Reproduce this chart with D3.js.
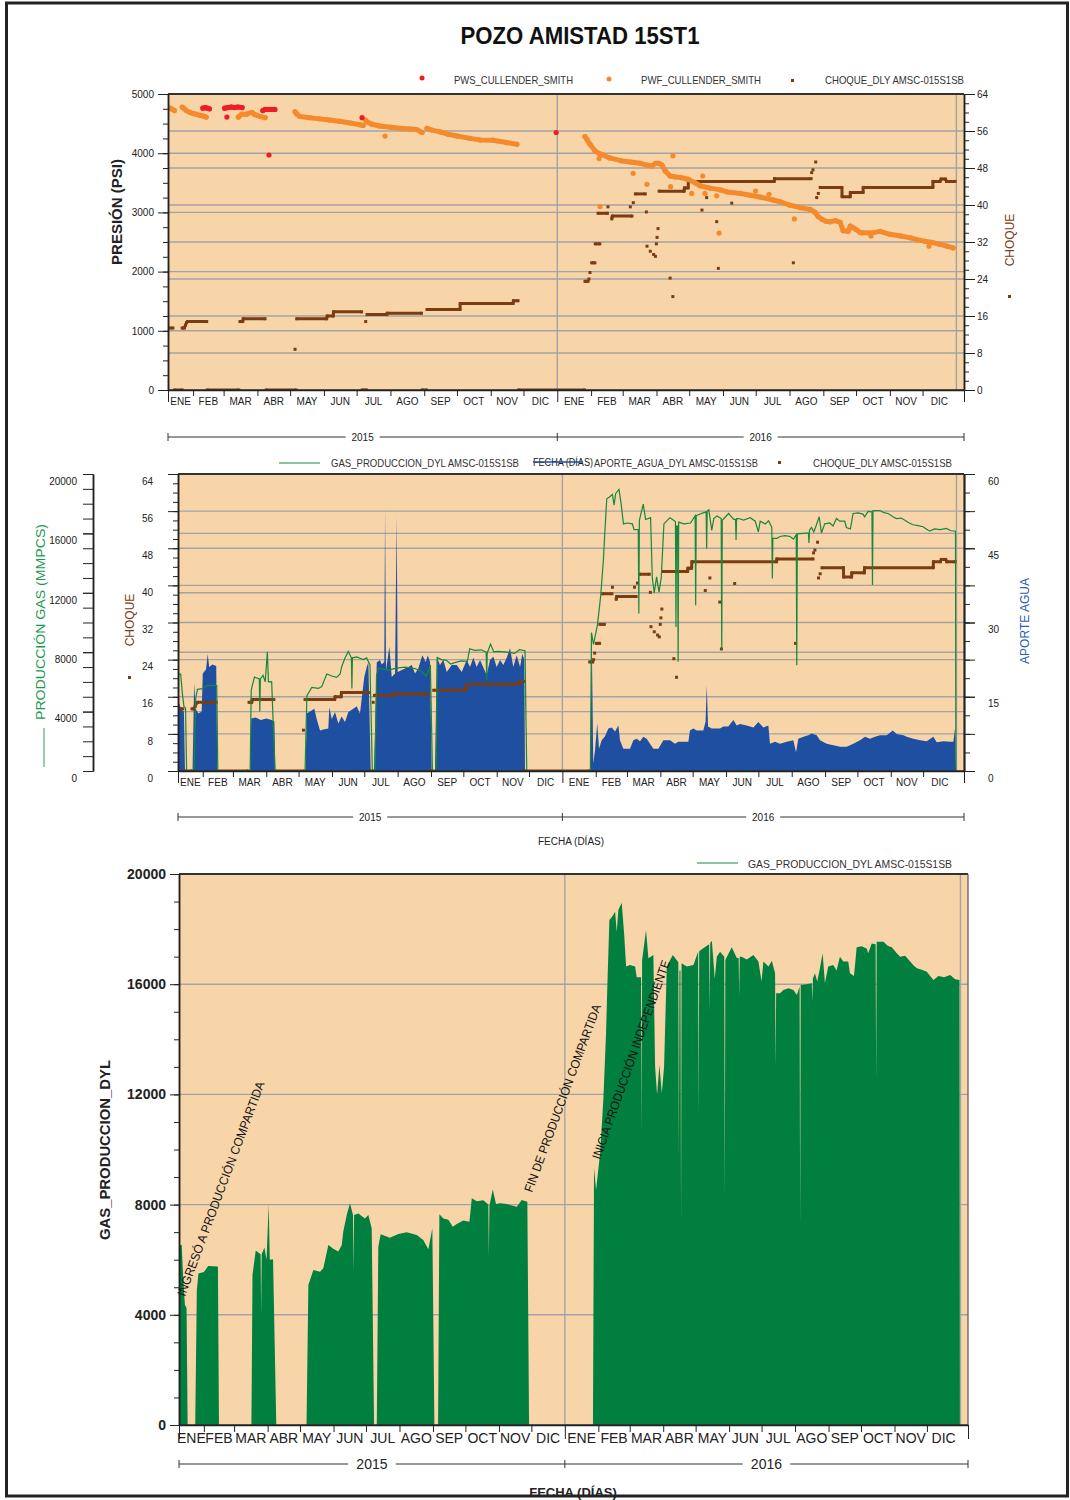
<!DOCTYPE html>
<html>
<head>
<meta charset="utf-8">
<script src="https://cdn.jsdelivr.net/npm/d3@7"></script>
<style>
body { margin: 0; background: #fff; }
svg { display: block; }
</style>
</head>
<body>
<svg id="c" width="1070" height="1500"></svg>
<script>
// ---- datos (t = días desde 2015-01-01) ----
var MESES = ["ENE","FEB","MAR","ABR","MAY","JUN","JUL","AGO","SEP","OCT","NOV","DIC"];
var ANIOS = [2015, 2016];
var INICIO = 8, FIN = 738;

// PWS_CULLENDER_SMITH (psi); null separa tramos
var pws = [
  [40,4760],[42,4770],[44,4760],[46,4750], null,
  [60,4760],[63,4770],[66,4780],[69,4770],[72,4780],[76,4770], null,
  [62,4610], null,
  [95,4720],[97,4740],[100,4740],[103,4740],[106,4740], null,
  [100.6,3970], null,
  [186,4600], null,
  [364,4350]
];

// PWF_CULLENDER_SMITH (psi)
var pwf = [
  [8,4770],[10,4760],[12,4740],[14,4720], null,
  [21,4780],[23,4750],[25,4720],[28,4690],[31,4670],[34,4660],[37,4640],[40,4630],[43,4610], null,
  [72.5,4610],[75.6,4660],[80,4660],[84.8,4690],[87.8,4650],[92.4,4620],[97,4600], null,
  [124.5,4700],[126.3,4660],[129,4620],[138,4600],[147,4580],[156,4560],[165,4540],[175,4510],[184,4480],[187,4470], null,
  [189,4560],[190.5,4530],[195,4490],[202,4460],[212,4440],[221,4420],[230,4410],[236,4400],[241,4350], null,
  [207,4290], null,
  [245.5,4420],[250,4390],[257.5,4360],[265,4320],[273,4290],[285,4250],[294,4225],[306,4220],[318.6,4180],[328,4150], null,
  [390.4,4280],[392.3,4230],[395,4150],[399.6,4040],[404,3990],[407,3970],[413,3920],[424,3870],[432,3850],[441,3830],[447,3800],[452,3780],[455,3830],[458,3830],[461,3800],[464,3700],[468.5,3615],[473,3600],[478,3590],[485,3560],[491.5,3500],[496,3450],[505,3410],[514.5,3380],[521,3345],[533,3320],[542,3290],[551,3260],[563,3210],[569.4,3180],[578.6,3120],[588,3080],[597,3050],[601.5,3000],[604.3,2930],[608,2880],[611.6,2850],[615.3,2840],[620,2860],[624.5,2830],[627.2,2690],[631.8,2680],[633.7,2770],[638.3,2720],[642.8,2660],[652,2650],[661,2680],[670,2630],[680,2600],[689,2570],[695,2540],[702.5,2510],[709.6,2490],[716,2460],[722.4,2430],[728,2400], null,
  [404.2,3100], null, [403.3,3910], null, [434.5,3660], null, [447.3,3475], null, [471,3955], null,
  [468.9,3435], null, [488.3,3320], null, [498.4,3615], null, [500.5,3320], null, [511.2,3280], null,
  [513.3,2650], null, [546.9,3360], null, [559.1,3305], null, [582.4,2890], null, [644.2,2655], null,
  [652.7,2600], null, [705.9,2430]
];

// CHOQUE_DLY AMSC-015S1SB
var choque = [
  [8,13.4],[12.5,13.4], null,
  [14,0],[21,0], null,
  [21,13.4],[23,13.4],[24,14.0],[25,14.6],[26,14.8],[43.5,14.8], null,
  [44,0],[73,0], null,
  [74,14.8],[76.5,14.8],[77,15.4],[97,15.4], null,
  [98,0],[125.5,0], null,
  [124.5,8.8], null,
  [126,15.4],[153.5,15.4],[154,16.0],[159.5,16.0],[159.8,16.9],[185.5,16.9], null,
  [186,0],[190,0], null,
  [189.3,14.8], null,
  [190.5,16.3],[208.6,16.3],[209,16.6],[240.5,16.6], null,
  [241,0],[245,0], null,
  [245.5,17.4],[275.8,17.4],[276,18.7],[324.4,18.7],[324.8,19.3],[329,19.3], null,
  [329.5,0],[390,0], null,
  [390.4,23.5],[393.2,23.5], null, [394,24.0], null, [395,25.4], null, [396.6,27.5],[399.5,27.5], null, [399.8,31.6],[404,31.6], null,
  [402.4,38.2],[411,38.2], null,
  [411.5,39.6], null,
  [415,37.0],[415.5,37.6],[433.5,37.6], null,
  [432,39.6], null, [434.7,40.5], null,
  [436.6,42.4],[445.7,42.4], null,
  [446.7,38.5], null, [447.3,31.1], null, [450.3,30.0], null, [453.4,29.3], null, [455,28.9], null,
  [455.9,31.6], null, [456.5,33.0], null, [457.4,34.9], null,
  [458.4,43.0],[481.3,43.0],[481.6,43.7],[485,43.7],[485.3,45.1],[563.9,45.1],[564.2,45.7],[597.8,45.7], null,
  [468.5,24.2], null, [471,20.2], null,
  [497.7,38.9], null, [502,41.6], null, [511.2,36.4], null, [512.7,26.3], null, [525,40.4], null, [581.5,27.5], null,
  [598.3,47.0], null, [599.5,47.6], null, [602,49.3], null,
  [602.9,41.6], null, [604.4,42.5], null,
  [606.1,43.8],[626,43.8],[626.2,41.8],[633.6,41.8],[633.8,42.7],[645.4,42.7],[645.6,43.8],[709.4,43.8],[709.6,45.1],[716,45.1],[717,45.6],[721,45.6],[722,45.1],[729.8,45.1]
];

// GAS_PRODUCCION_DYL AMSC-015S1SB
var gas = [
  [8,0],[8.5,6530],[10.5,6530],[12,5260],[13.5,4355],[15,4250],[16,0],
  [23,0],[24.5,4900],[26,5500],[31,5550],[35,5770],[44,5750],[45,0],
  [75,0],[76,5450],[79,6330],[83.5,6200],[84,4000],[84.5,6200],[87,6440],[89,6000],[91,8020],[92,6000],[95,6020],[98,0],
  [126,0],[127.7,5080],[132.3,5625],[138.5,5560],[141.5,5690],[146.2,6530],[150.8,6400],[155.4,6300],[158.6,6530],[160,7020],[163.2,7620],[166.2,8050],[169,7620],[169.5,5550],[170,7620],[174,7680],[180,7500],[183.2,7620],[186.3,7140],[188.5,0],
  [191,0],[192.4,6470],[194.6,6920],[203,6800],[211,6930],[218.7,7000],[228,6900],[234,6715],[238.7,6380],[242.4,7140],[244.3,0],
  [247.7,0],[248.9,7650],[252.6,7500],[257.2,7450],[261.3,7200],[265,7300],[271,7420],[276.7,7380],[278.9,8230],[283.5,8120],[289.6,8160],[294.2,8000],[294.7,6110],[295.2,7950],[298.3,8550],[301.3,8020],[305,8050],[311.3,8020],[320.5,7920],[325.1,8170],[330.3,8100],[331.9,0],
  [391,0],[392,9320],[393.9,8530],[397.6,9860],[400.6,11800],[403.1,14220],[404.3,15910],[406.2,18330],[408.7,18450],[411.5,18630],[413,17900],[414.5,18690],[417.6,18960],[419.8,17850],[421.7,16640],[425.3,16700],[430,16640],[431.5,16250],[435.5,16250],[436,10600],[436.5,16880],[440.1,17970],[442.3,16940],[446.9,17060],[448.5,13010],[450.3,12000],[452.5,13070],[454.7,12040],[456.8,13000],[459.3,16640],[462.4,16880],[464.9,17060],[470,16800],[470.5,9700],[471,16500],[472,16500],[472.5,7350],[473,16760],[477.8,16640],[484,16700],[488.3,17180],[488.8,11170],[489.3,17200],[491.7,17270],[496.4,17400],[498.5,17450],[499,14990],[499.5,17500],[501,17580],[503.7,16200],[505.6,17000],[508.6,17180],[512.5,17000],[513,8140],[513.5,16880],[519.4,17340],[524.1,16950],[525.8,16950],[526.3,15550],[526.8,17000],[528.7,17000],[533.3,16900],[539.5,17060],[544.1,16820],[547,16100],[548.7,16820],[553.4,16640],[556.5,16850],[559.5,16400],[560,12970],[560.5,15670],[564.2,15670],[567.2,15790],[571.9,15850],[576.5,15790],[579.6,15610],[582.2,15910],[582.7,7120],[583.2,15970],[588.7,16000],[593.5,16030],[594,15350],[594.5,16210],[596.4,16400],[598.5,16100],[601,16580],[603.5,17120],[605.6,16030],[608.7,16640],[613.3,16700],[616.4,16500],[619.5,17000],[622.6,16820],[627.2,16820],[628.8,16400],[632.5,16300],[635,17340],[639.6,17380],[644.2,17300],[645.7,17120],[648.9,17480],[652.5,17450],[653,12520],[653.5,17540],[659.8,17540],[663.6,17400],[667.5,17340],[672.1,17120],[675.2,17000],[679.8,17030],[684.5,16820],[687.2,16700],[690.7,16580],[695.3,16520],[699.9,16450],[703,16300],[706,16150],[710.7,16300],[715.9,16250],[721.5,16330],[726.1,16180],[730.1,16150],[730.5,0]
];

// APORTE_AGUA_DYL AMSC-015S1SB
var agua = [
  [8,0],[8.5,14],[11,12.5],[13.5,12],[14.5,0],
  [21.5,0],[23,17.7],[24.5,12.5],[27,11.6],[30,12],[31,19.7],[34,20.5],[35.6,23.6],[37,21.0],[40,21.5],[43.5,21.2],[44.5,0],
  [75,0],[76,10.6],[80,10.8],[85,10.3],[90,10.6],[95,10.3],[97.5,10.0],[98.5,0],
  [126.5,0],[127.5,11.6],[130.6,12.0],[134.6,12.6],[136.8,10.5],[139.9,8.2],[143,8.4],[147.6,8.6],[148.5,12.9],[150.8,10.5],[153.8,11.9],[156.9,9.6],[160,11],[163.1,9.9],[166.2,11.9],[170.8,12.6],[174,13.1],[177,11.6],[181,19.0],[183.3,21.0],[184.8,22.0],[187,0],
  [190,0],[192.6,21.9],[195.6,22.4],[197.2,21.5],[199.6,22],[200.3,52.9],[201.2,20.3],[204.3,25.1],[206.5,19.0],[209.6,19.7],[211.1,51.5],[212,20.0],[218.8,20.7],[221.9,21.0],[225.1,21.4],[228.1,19.7],[231.2,20.7],[234.9,23.4],[238.1,22.0],[240,23.4],[242.1,22.0],[243.6,0],
  [246.7,0],[248.3,23.1],[251.3,21.4],[254.4,22.5],[257.6,20.0],[262.2,21.4],[266.9,21.4],[271.5,20.0],[276.1,22.4],[279.2,21.0],[282.3,22.9],[285.4,21.0],[288.5,22.4],[294.7,19.4],[297.8,22.4],[300.9,23.1],[304,21.0],[307.1,22.4],[310.1,21.4],[313.3,22.9],[316.4,24.8],[319.4,21.0],[322.6,23.4],[325.7,21.0],[327.8,23.7],[329.6,22.5],[330.3,0],
  [391,0],[392.2,28.1],[393.7,1.5],[395.3,4.2],[397.4,9.6],[399,4.5],[401.5,6.2],[404.6,7.0],[407.7,8.6],[410.8,8.8],[413.9,8.0],[417,9.2],[418.5,6.2],[421.6,4.5],[427.8,4.5],[430.9,6.2],[434,6.5],[437.1,6.0],[440.2,6.9],[443.3,6.5],[446.4,5.5],[449.5,4.5],[454.1,4.5],[458.8,6.2],[465,6.2],[469.6,5.5],[472.7,5.9],[477.3,5.9],[482,5.9],[483.5,8.2],[486.6,8.6],[489.8,8.2],[495.9,8.2],[498,10],[499.1,17.3],[500.3,9],[503.7,8.6],[508.3,8.6],[511.4,8.6],[514.5,9.0],[519.1,9.0],[523.8,10.3],[526.9,9.2],[530,9.5],[536.2,9.2],[542.4,8.8],[547,9.9],[551.7,8.8],[556.3,9.2],[557.8,5.5],[562.5,5.9],[567.1,5.5],[573.4,5.9],[579.5,6.2],[582,3.8],[584.1,6.5],[588.8,6.9],[593.4,7.2],[596.6,7.6],[601.2,7.2],[604.3,6.2],[610.5,5.5],[616.7,5.2],[622.9,4.9],[629.1,4.9],[635.2,5.5],[641.4,6.2],[646.1,6.9],[650.7,6.5],[655.4,6.9],[660,7.2],[666.2,7.2],[671.8,8.2],[675.5,7.5],[681.7,7.2],[684.8,6.9],[691,6.5],[697.2,6.2],[703.4,6.0],[709.5,6.9],[712.7,5.8],[718.9,6.0],[725,5.9],[728.1,5.9],[729.7,8.6],[730.6,0]
];

// notas del panel inferior: [día, gas]
var notas = [
  {texto: "INGRESÓ A PRODUCCIÓN COMPARTIDA", t: 13.5, v: 4650, ang: -69.5, largo: 228},
  {texto: "FIN DE PRODUCCIÓN COMPARTIDA", t: 334.7, v: 8420, ang: -69.7, largo: 199},
  {texto: "INICIA PRODUCCIÓN INDEPENDIENTE", t: 397.6, v: 9620, ang: -70.5, largo: 210}
];

// ---- dibujo ----
var FN = "'Liberation Sans Narrow','Arial Narrow','Liberation Sans',Arial,sans-serif";
var FA = "'Liberation Sans',Arial,sans-serif";
var C = {fondo: "#f8d5a9", grid: "#a3a3a3", eje: "#222", pws: "#ee1d24", pwf: "#f58a2c",
         choque: "#7a3d12", gas: "#007f3f", gasL: "#17883c", agua: "#1f4fa0"};

var T0 = new Date(2015, 0, 1);
function fecha(t) { return new Date(T0.getTime() + t * 864e5); }
var ENE16 = new Date(2016, 0, 1), ENE17 = new Date(2017, 0, 1);

var svg = d3.select("#c");

var P1 = {x0: 168, x1: 964, y0: 94, y1: 390};
var P2 = {x0: 178, x1: 964, y0: 474, y1: 771};
var P3 = {x0: 179, x1: 968, y0: 874, y1: 1425};

function panel(P, id) {
  svg.append("clipPath").attr("id", id).append("rect")
    .attr("x", P.x0).attr("y", P.y0).attr("width", P.x1 - P.x0).attr("height", P.y1 - P.y0);
  var g = svg.append("g");
  g.append("rect").attr("x", P.x0).attr("y", P.y0).attr("width", P.x1 - P.x0).attr("height", P.y1 - P.y0)
    .attr("fill", C.fondo);
  return g;
}

function rejilla(g, P, x, ys) {
  ys.forEach(function(v) {
    g.append("line").attr("x1", P.x0).attr("x2", P.x1).attr("y1", v).attr("y2", v)
      .attr("stroke", C.grid).attr("stroke-width", 1.4);
  });
  [ENE16, ENE17].forEach(function(d) {
    g.append("line").attr("x1", x(d)).attr("x2", x(d)).attr("y1", P.y0).attr("y2", P.y1)
      .attr("stroke", C.grid).attr("stroke-width", 1.4);
  });
}

function marco(g, P) {
  g.append("line").attr("x1", P.x0).attr("x2", P.x1).attr("y1", P.y0).attr("y2", P.y0)
    .attr("stroke", "#333").attr("stroke-width", 2);
  g.append("line").attr("x1", P.x0).attr("x2", P.x1).attr("y1", P.y1).attr("y2", P.y1)
    .attr("stroke", "#333").attr("stroke-width", 1.5);
}

function estilo(sel, fs, peso, dy) {
  sel.attr("font-family", FN).attr("font-size", fs);
  sel.select(".domain").attr("stroke", C.eje).attr("stroke-width", 1.5);
  sel.selectAll(".tick line").attr("stroke", C.eje).attr("stroke-width", 1);
  sel.selectAll(".tick text").attr("fill", "#222").attr("font-weight", peso || null)
    .attr("transform", dy ? "translate(0," + dy + ")" : null);
}

function eje(g, lado, pos, escala, valores, largo, relleno, fs, peso, dy, conTexto) {
  var a = (lado === "l" ? d3.axisLeft(escala) : d3.axisRight(escala))
    .tickValues(valores).tickSize(largo).tickSizeOuter(0).tickPadding(relleno);
  a.tickFormat(conTexto ? d3.format("d") : "");
  g.append("g").attr("transform", "translate(" + pos + ",0)").call(a)
    .call(function(s) { estilo(s, fs, peso, dy); });
}

function ejeTiempo(g, P, x, fs, largo, yLbl, yAnio, fsAnio) {
  var d0 = x.domain()[0], d1 = x.domain()[1];
  var bordes = d3.timeMonth.range(d3.timeMonth.ceil(d0), d1).filter(function(m) { return m < ENE17 && +m !== +ENE16; });
  g.append("g").attr("transform", "translate(0," + P.y1 + ")")
    .call(d3.axisBottom(x).tickValues(bordes).tickSize(largo).tickSizeOuter(0).tickFormat(""))
    .call(function(s) { estilo(s, fs); });
  g.append("g").attr("transform", "translate(0," + P.y1 + ")")
    .call(d3.axisBottom(x).tickValues([d0, ENE16, d1]).tickSize(largo * 2).tickSizeOuter(0).tickFormat(""))
    .call(function(s) { estilo(s, fs); s.select(".domain").remove(); });
  var meses = d3.timeMonth.range(new Date(2015, 0, 1), ENE17);
  g.append("g").selectAll("text").data(meses).enter().append("text")
    .attr("x", function(m) {
      var a = m < d0 ? d0 : m, b = d3.timeMonth.offset(m, 1);
      b = b > d1 ? d1 : b;
      return (x(a) + x(b)) / 2;
    })
    .attr("y", yLbl).attr("text-anchor", "middle").attr("font-family", FN).attr("font-size", fs).attr("fill", "#222")
    .text(function(m) { return MESES[m.getMonth()]; });
  // corchete de años
  var ya = g.append("g");
  ya.append("line").attr("x1", x(d0)).attr("x2", x(d1)).attr("y1", yAnio).attr("y2", yAnio).attr("stroke", "#333");
  [d0, ENE16, d1].forEach(function(d) {
    ya.append("line").attr("x1", x(d)).attr("x2", x(d)).attr("y1", yAnio - 4).attr("y2", yAnio + 4).attr("stroke", "#333");
  });
  ANIOS.forEach(function(an, i) {
    var a = i === 0 ? d0 : ENE16, b = i === 0 ? ENE16 : d1;
    var cx = (x(a) + x(b)) / 2;
    var w = fsAnio * 3.4;
    ya.append("rect").attr("x", cx - w / 2).attr("y", yAnio - 6).attr("width", w).attr("height", 12).attr("fill", "#fff");
    ya.append("text").attr("x", cx).attr("y", yAnio + fsAnio * 0.35).attr("text-anchor", "middle")
      .attr("font-family", FN).attr("font-size", fsAnio).attr("fill", "#222").text(an);
  });
}

function tramos(datos) {
  var out = [], cur = [];
  datos.forEach(function(d) {
    if (d === null) { if (cur.length) out.push(cur); cur = []; } else cur.push(d);
  });
  if (cur.length) out.push(cur);
  return out;
}

function dispersion(g, datos, x, y, o) {
  var linea = d3.line().x(function(d) { return x(fecha(d[0])); }).y(function(d) { return y(d[1]); });
  tramos(datos).filter(function(t) { return t.length > 1; }).forEach(function(t) {
    g.append("path").attr("d", linea(t)).attr("fill", "none").attr("stroke", o.color)
      .attr("stroke-width", o.ancho).attr("stroke-linecap", o.cap).attr("stroke-linejoin", "round");
  });
  var pts = datos.filter(function(d) { return d !== null; });
  if (o.forma === "c") {
    g.selectAll(null).data(pts).enter().append("circle")
      .attr("cx", function(d) { return x(fecha(d[0])); }).attr("cy", function(d) { return y(d[1]); })
      .attr("r", o.r).attr("fill", o.color);
  } else {
    g.selectAll(null).data(pts).enter().append("rect")
      .attr("x", function(d) { return x(fecha(d[0])) - o.r; }).attr("y", function(d) { return y(d[1]) - o.r; })
      .attr("width", o.r * 2).attr("height", o.r * 2).attr("fill", o.color);
  }
}

function texto(x, y, t, o) {
  var s = svg.append("text").attr("x", x).attr("y", y).text(t)
    .attr("font-family", o.ff || FN).attr("font-size", o.fs || 11).attr("fill", o.color || "#333")
    .attr("text-anchor", o.anchor || "start");
  if (o.peso) s.attr("font-weight", o.peso);
  if (o.rot) s.attr("transform", "rotate(" + o.rot + "," + x + "," + y + ")");
  if (o.largo) s.attr("textLength", o.largo).attr("lengthAdjust", "spacingAndGlyphs");
  return s;
}

// título
texto(580, 44, "POZO AMISTAD 15ST1", {ff: FA, fs: 23, peso: "bold", color: "#111", anchor: "middle", largo: 239});

// ===== panel 1: presión =====
var x1 = d3.scaleTime([fecha(INICIO), fecha(FIN)], [P1.x0, P1.x1]);
var yP = d3.scaleLinear([0, 5000], [P1.y1, P1.y0]);
var yC1 = d3.scaleLinear([0, 64], [P1.y1, P1.y0]);
var g1 = panel(P1, "clip1");
rejilla(g1, P1, x1, [1000, 2000, 3000, 4000].map(yP).concat(d3.range(8, 64, 8).map(yC1)));
var d1 = g1.append("g").attr("clip-path", "url(#clip1)");
dispersion(d1, choque, x1, yC1, {color: C.choque, ancho: 3, cap: "butt", forma: "r", r: 1.5});
dispersion(d1, pwf, x1, yP, {color: C.pwf, ancho: 5, cap: "round", forma: "c", r: 2.6});
dispersion(d1, pws, x1, yP, {color: C.pws, ancho: 5, cap: "round", forma: "c", r: 2.6});
marco(g1, P1);
eje(g1, "l", P1.x0, yP, d3.range(0, 5001, 250), 5, 3, 10, null, 0, false);
eje(g1, "l", P1.x0, yP, d3.range(0, 5001, 1000), 10, 4, 10, null, 0, true);
eje(g1, "r", P1.x1, yC1, d3.range(0, 65, 2), 5, 3, 10, null, 0, false);
eje(g1, "r", P1.x1, yC1, d3.range(0, 65, 8), 11, 2, 10, null, 0, true);
ejeTiempo(g1, P1, x1, 10, 6, 405, 437, 10);

// leyenda 1
svg.append("circle").attr("cx", 422).attr("cy", 78).attr("r", 2.5).attr("fill", C.pws);
texto(454, 84, "PWS_CULLENDER_SMITH", {largo: 119});
svg.append("circle").attr("cx", 609).attr("cy", 79).attr("r", 2.5).attr("fill", C.pwf);
texto(641, 84, "PWF_CULLENDER_SMITH", {largo: 120});
svg.append("rect").attr("x", 791).attr("y", 79).attr("width", 3).attr("height", 3).attr("fill", C.choque);
texto(825, 84, "CHOQUE_DLY AMSC-015S1SB", {largo: 139});
texto(122, 212, "PRESIÓN (PSI)", {ff: FA, fs: 15, peso: "bold", color: "#222", anchor: "middle", rot: -90});
texto(1014, 240, "CHOQUE", {ff: FA, fs: 12, color: C.choque, anchor: "middle", rot: -90});
svg.append("rect").attr("x", 1008).attr("y", 295).attr("width", 3).attr("height", 3).attr("fill", C.choque);

// ===== panel 2: gas, agua, choque =====
var x2 = d3.scaleTime([fecha(INICIO), fecha(FIN)], [P2.x0, P2.x1]);
var yG2 = d3.scaleLinear([0, 20000], [P2.y1, P2.y0]);
var yC2 = d3.scaleLinear([0, 64], [P2.y1, P2.y0]);
var yW = d3.scaleLinear([0, 60], [P2.y1, P2.y0]);
var g2 = panel(P2, "clip2");
rejilla(g2, P2, x2, [4000, 8000, 12000, 16000].map(yG2).concat(d3.range(8, 64, 8).map(yC2)));
var d2 = g2.append("g").attr("clip-path", "url(#clip2)");
d2.append("path").datum(agua).attr("fill", C.agua)
  .attr("d", d3.area().x(function(d) { return x2(fecha(d[0])); }).y0(yW(0)).y1(function(d) { return yW(d[1]); }));
dispersion(d2, choque, x2, yC2, {color: C.choque, ancho: 3, cap: "butt", forma: "r", r: 1.5});
d2.append("path").datum(gas).attr("fill", "none").attr("stroke", C.gasL).attr("stroke-width", 1.2)
  .attr("d", d3.line().x(function(d) { return x2(fecha(d[0])); }).y(function(d) { return yG2(d[1]); }));
marco(g2, P2);
eje(g2, "l", 93, yG2, d3.range(0, 20001, 1000), 10, 6, 10, null, 7, false);
eje(g2, "l", 93, yG2, d3.range(0, 20001, 4000), 10, 6, 10, null, 7, true);
eje(g2, "l", P2.x0, yC2, d3.range(0, 65, 2), 5, 3, 10, null, 7, false);
eje(g2, "l", P2.x0, yC2, d3.range(0, 65, 8), 10, 15, 10, null, 7, true);
eje(g2, "r", P2.x1, yW, d3.range(0, 60.1, 3.75), 6, 3, 10, null, 7, false);
eje(g2, "r", P2.x1, yW, d3.range(0, 60.1, 7.5), 11, 3, 10, null, 7, false);
eje(g2, "r", P2.x1, yW, d3.range(0, 61, 15), 11, 13, 10, null, 7, true);
ejeTiempo(g2, P2, x2, 10, 6, 786, 817, 10);
texto(571, 845, "FECHA (DÍAS)", {fs: 10, color: "#222", anchor: "middle"});

// leyenda 2
svg.append("line").attr("x1", 279).attr("x2", 320).attr("y1", 463).attr("y2", 463).attr("stroke", C.gasL).attr("stroke-width", 1.2);
texto(331, 467, "GAS_PRODUCCION_DYL AMSC-015S1SB", {largo: 188});
texto(533, 466, "FECHA (DÍAS)", {fs: 10, color: "#222", largo: 60});
svg.append("line").attr("x1", 533).attr("x2", 583).attr("y1", 462).attr("y2", 462).attr("stroke", C.agua).attr("stroke-width", 1.3);
texto(594, 467, "APORTE_AGUA_DYL AMSC-015S1SB", {largo: 164});
svg.append("rect").attr("x", 778).attr("y", 461).attr("width", 3).attr("height", 3).attr("fill", C.choque);
texto(813, 467, "CHOQUE_DLY AMSC-015S1SB", {largo: 139});
texto(45, 622, "PRODUCCIÓN GAS (MMPCS)", {ff: FA, fs: 12, color: "#1a9a4c", anchor: "middle", rot: -90, largo: 196});
svg.append("line").attr("x1", 44).attr("x2", 44).attr("y1", 728).attr("y2", 767).attr("stroke", "#5cb87a").attr("stroke-width", 1.3);
texto(134, 620, "CHOQUE", {ff: FA, fs: 12, color: C.choque, anchor: "middle", rot: -90});
svg.append("rect").attr("x", 128).attr("y", 676).attr("width", 3).attr("height", 3).attr("fill", C.choque);
texto(1029, 621, "APORTE AGUA", {ff: FA, fs: 12, color: "#2a5cb8", anchor: "middle", rot: -90});

// ===== panel 3: gas =====
var x3 = d3.scaleTime([fecha(INICIO), fecha(FIN)], [P3.x0, P3.x1]);
var yG3 = d3.scaleLinear([0, 20000], [P3.y1, P3.y0]);
var g3 = panel(P3, "clip3");
rejilla(g3, P3, x3, [4000, 8000, 12000, 16000].map(yG3));
var d3g = g3.append("g").attr("clip-path", "url(#clip3)");
d3g.append("path").datum(gas).attr("fill", C.gas)
  .attr("d", d3.area().x(function(d) { return x3(fecha(d[0])); }).y0(yG3(0)).y1(function(d) { return yG3(d[1]); }));
marco(g3, P3);
g3.append("line").attr("x1", P3.x1).attr("x2", P3.x1).attr("y1", P3.y0).attr("y2", P3.y1).attr("stroke", "#555").attr("stroke-width", 1.2);
eje(g3, "l", P3.x0, yG3, d3.range(0, 20001, 1000), 5, 4, 14, "bold", 0, false);
eje(g3, "l", P3.x0, yG3, d3.range(0, 20001, 4000), 9, 4, 14, "bold", 0, true);
ejeTiempo(g3, P3, x3, 14, 7, 1443, 1464, 14);

notas.forEach(function(n) {
  texto(x3(fecha(n.t)), yG3(n.v), n.texto, {fs: 12.5, color: "#111", rot: n.ang, largo: n.largo});
});

// leyenda 3
svg.append("line").attr("x1", 697).attr("x2", 738).attr("y1", 863).attr("y2", 863).attr("stroke", C.gasL).attr("stroke-width", 1.2);
texto(748, 868, "GAS_PRODUCCION_DYL AMSC-015S1SB", {largo: 204});
texto(110, 1150, "GAS_PRODUCCION_DYL", {ff: FA, fs: 14, peso: "bold", color: "#222", anchor: "middle", rot: -90, largo: 180});
texto(573, 1497, "FECHA (DÍAS)", {fs: 13, peso: "bold", color: "#222", anchor: "middle"});

// borde de página
svg.append("rect").attr("x", 6.5).attr("y", 3).attr("width", 1061).attr("height", 1493)
  .attr("fill", "none").attr("stroke", "#222").attr("stroke-width", 3);
</script>
</body>
</html>
